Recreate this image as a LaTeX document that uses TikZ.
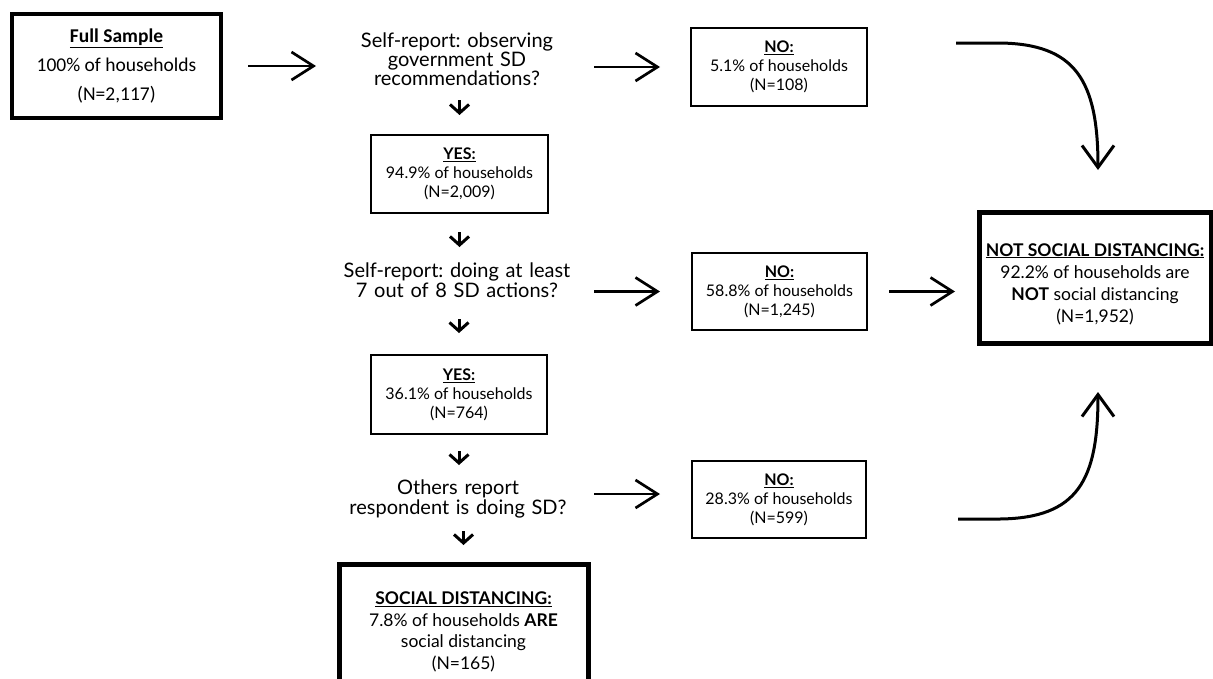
\documentclass[tikz,border=0pt]{standalone}
\usepackage{fontspec}
\setmainfont{Lato}
\newfontfamily\fullfont{Carlito}
\usetikzlibrary{arrows.meta}
\frenchspacing
\tikzset{
  thinbox/.style={draw, line width=2pt, inner sep=0pt, outer sep=0pt, align=center,
    font=\frenchspacing\fontsize{16}{19}\selectfont},
  thickbox/.style={draw, line width=5pt, inner sep=0pt, outer sep=0pt, align=center},
  question/.style={inner sep=0pt, outer sep=0pt, align=center, text width=240pt,
    font=\frenchspacing\fontsize{20}{18}\selectfont},
  harrow/.style={line width=2.7pt, -{Straight Barb[length=22pt,width=28pt]}},
  varrow/.style={line width=3pt, -{Straight Barb[length=8.5pt,width=19pt]}},
  curvearrow/.style={line width=3pt, -{Straight Barb[length=22pt,width=32pt]}},
}
\begin{document}
\begin{tikzpicture}[x=1pt,y=-1pt]
\useasboundingbox (0,0) rectangle (1213,678);
\fill[white] (0,0) rectangle (1213,678);

% boxes
\node[thickbox, line width=4.5pt, minimum width=209pt, minimum height=104pt,
  font=\fullfont\fontsize{19.5}{29}\selectfont] (full) at (116.5,66)
  {\underline{\textbf{Full Sample}}\\100\% of households\\(N=2,117)};

\node[question] (q1) at (457,59)
  {Self-report: observing\\government SD\\recommendations?};
\node[thinbox, minimum width=177pt, minimum height=78pt] (yes1) at (459.5,174)
  {\underline{\textbf{YES:}}\\94.9\% of households\\(N=2,009)};
\node[thinbox, minimum width=176pt, minimum height=78pt] (no1) at (779,67)
  {\underline{\textbf{NO:}}\\5.1\% of households\\(N=108)};

\node[question, font=\frenchspacing\fontsize{20}{19.5}\selectfont] (q2) at (457,280)
  {Self-report: doing at least\\7 out of 8 SD actions?};
\node[thinbox, minimum width=175pt, minimum height=77pt] (no2) at (779.5,291.5)
  {\underline{\textbf{NO:}}\\58.8\% of households\\(N=1,245)};
\node[thinbox, minimum width=176pt, minimum height=79pt] (yes2) at (459,394.5)
  {\underline{\textbf{YES:}}\\36.1\% of households\\(N=764)};

\node[question, font=\frenchspacing\fontsize{20}{19.5}\selectfont] (q3) at (458,499)
  {Others report\\respondent is doing SD?};
\node[thinbox, minimum width=174pt, minimum height=77pt] (no3) at (779,499.5)
  {\underline{\textbf{NO:}}\\28.3\% of households\\(N=599)};

\node[thickbox, minimum width=232pt, minimum height=131pt] (notsd) at (1095,277.5) {};
\node[align=center, inner sep=0pt, font=\fontsize{17.5}{22}\selectfont] (notsdtext) at (1095,284)
  {\underline{\textbf{NOT SOCIAL DISTANCING:}}\\92.2\% of households are\\\textbf{NOT} social distancing\\(N=1,952)};

\node[thickbox, minimum width=249pt, minimum height=136pt,
  font=\fontsize{17.5}{21.5}\selectfont] (sd) at (463.5,632)
  {\underline{\textbf{SOCIAL DISTANCING:}}\\7.8\% of households \textbf{ARE}\\social distancing\\(N=165)};

% horizontal arrows
\draw[harrow, shorten <=27pt, shorten >=21pt] (full.east) -- (full.east -| q1.west);
\draw[harrow, shorten <=17pt, shorten >=31pt] (q1.east |- no1.west) -- (no1.west);
\draw[harrow, shorten <=17pt, shorten >=32pt] (q2.east |- no2.west) -- (no2.west);
\draw[harrow, shorten <=22pt, shorten >=24pt] (no2.east) -- (notsd.west |- no2.east);
\draw[harrow, shorten <=16pt, shorten >=32pt] ([yshift=5.5pt]q3.east |- no3.west) -- ([yshift=5.5pt]no3.west);

% small down arrows
\draw[varrow] ([yshift=35pt]yes1.north) -- ([yshift=20pt]yes1.north);
\draw[varrow] ([yshift=-19pt]yes1.south) -- ([yshift=-34pt]yes1.south);
\draw[varrow] ([yshift=36pt]yes2.north) -- ([yshift=22pt]yes2.north);
\draw[varrow] ([yshift=-17pt]yes2.south) -- ([yshift=-31pt]yes2.south);
\draw[varrow] ([yshift=33pt]sd.north) -- ([yshift=19pt]sd.north);

% curved arrows
\draw[curvearrow] ([xshift=89pt,yshift=24pt]no1.east) -- (1000,43)
  .. controls (1075,44) and (1098,80) .. ([xshift=3pt,yshift=42pt]notsd.north);
\draw[curvearrow] ([xshift=92pt,yshift=-19.5pt]no3.east) -- (1000,519)
  .. controls (1078,518) and (1098,480) .. ([xshift=3pt,yshift=-49pt]notsd.south);
\end{tikzpicture}
\end{document}
